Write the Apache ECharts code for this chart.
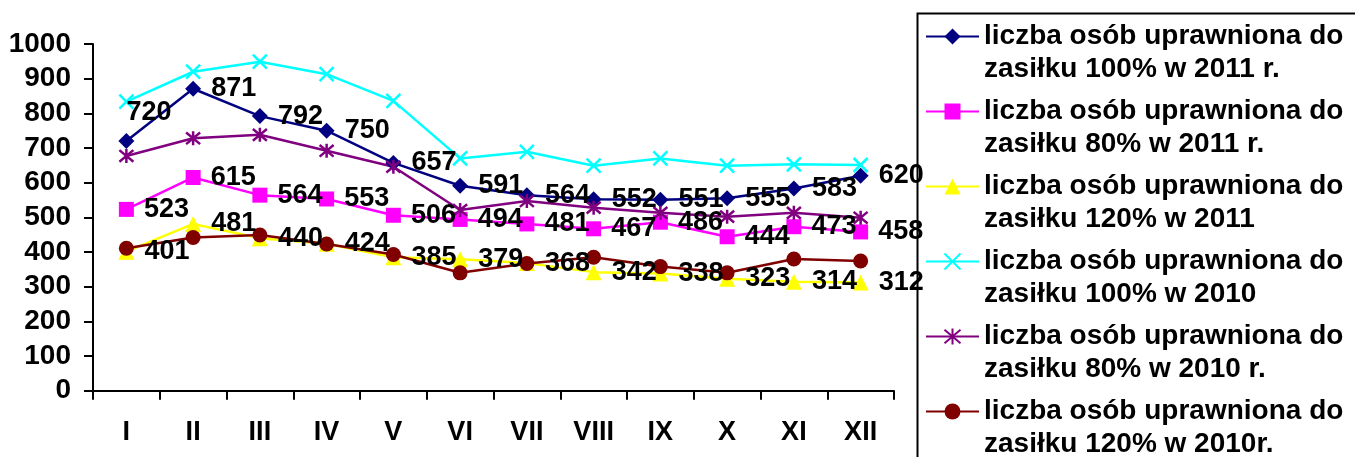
<!DOCTYPE html>
<html>
<head>
<meta charset="utf-8">
<script src="https://cdn.jsdelivr.net/npm/echarts@6/dist/echarts.min.js"></script>
<style>
html,body{margin:0;padding:0;background:#fff;}
#c{width:1355px;height:457px;}
</style>
</head>
<body>
<div id="c"></div>
<script>
var categories = ['I','II','III','IV','V','VI','VII','VIII','IX','X','XI','XII'];
var yTicks = [0,100,200,300,400,500,600,700,800,900,1000];
var names = [
  'liczba osób uprawniona do\nzasiłku 100% w 2011 r.',
  'liczba osób uprawniona do\nzasiłku 80% w 2011 r.',
  'liczba osób uprawniona do\nzasiłku 120% w 2011',
  'liczba osób uprawniona do\nzasiłku 100% w 2010',
  'liczba osób uprawniona do\nzasiłku 80% w 2010 r.',
  'liczba osób uprawniona do\nzasiłku 120% w 2010r.'
];
var v100_2011 = [720,871,792,750,657,591,564,552,551,555,583,620];
var v80_2011  = [523,615,564,553,506,494,481,467,486,444,473,458];
var v120_2011 = [401,481,440,424,385,379,368,342,338,323,314,312];
var v100_2010 = [834,920,949,913,836,670,689,649,670,649,653,651];
var v80_2010  = [677,728,738,692,646,521,547,528,513,502,513,499];
var v120_2010 = [411,442,449,423,393,340,367,385,358,340,380,374];

var FONT = 'Liberation Sans, Arial, sans-serif';
var labelStyle = {show:true, position:'right', distance:10, color:'#000', fontSize:27, fontWeight:'bold', fontFamily:FONT};

function mk(name, data, color, symbol, size, showLabel, extra){
  var s = {
    name: name, type:'line', data: data, symbol: symbol, symbolSize: size,
    lineStyle:{color:color, width:2.5},
    itemStyle:{color:color, borderColor:color, borderWidth:0},
    label: showLabel ? labelStyle : {show:false},
    emphasis:{disabled:true},
    animation:false
  };
  if (extra) extra(s);
  return s;
}

var blueData = v100_2011.map(function(v,i){
  if (i===0) return {value:v, label:{offset:[-18,-29]}};
  return v;
});

var xPath = 'path://M0,0L10,10M10,0L0,10';
var starPath = 'path://M0,0L10,10M10,0L0,10M5,-1L5,11';
function strokeOnly(s){ s.itemStyle.borderWidth=2.5; s.itemStyle.color='rgba(0,0,0,0)'; }

var series = [
  mk(names[0], blueData, '#000080', 'diamond', 16, true),
  mk(names[1], v80_2011, '#FF00FF', 'rect', 15, true),
  mk(names[2], v120_2011, '#FFFF00', 'triangle', 16, true),
  mk(names[3], v100_2010, '#00FFFF', xPath, 14, false, strokeOnly),
  mk(names[4], v80_2010, '#800080', starPath, 14, false, strokeOnly),
  mk(names[5], v120_2010, '#800000', 'circle', 15, false)
];

var chart = echarts.init(document.getElementById('c'), null, {renderer:'canvas'});
chart.setOption({
  animation:false,
  backgroundColor:'#fff',
  grid:{left:93, right:461, top:44, bottom:66.3, containLabel:false},
  xAxis:{
    type:'category', data:categories, boundaryGap:true,
    axisLine:{lineStyle:{color:'#000', width:2}},
    axisTick:{show:true, length:9, inside:false, lineStyle:{color:'#000', width:2}},
    axisLabel:{color:'#000', fontSize:27, fontWeight:'bold', fontFamily:FONT, margin:28},
    splitLine:{show:false}
  },
  yAxis:{
    type:'value', min:yTicks[0], max:yTicks[yTicks.length-1], interval:100,
    axisLine:{show:true, lineStyle:{color:'#000', width:2}},
    axisTick:{show:true, length:9, lineStyle:{color:'#000', width:2}},
    axisLabel:{color:'#000', fontSize:28, fontWeight:'bold', fontFamily:FONT, margin:22,
      formatter:function(v){ return String(v); }},
    splitLine:{show:false}
  },
  legend:{
    orient:'vertical', left:925, top:-13, padding:0, width:430, height:700,
    itemWidth:53, itemHeight:20, itemGap:-24,
    selectedMode:false,
    formatter:function(n){ return '\n' + n; },
    textStyle:{color:'#000', fontSize:28, fontWeight:'bold', fontFamily:FONT, lineHeight:33},
    data:names
  },
  graphic:[{
    type:'rect', left:915, top:11, shape:{x:0,y:0,width:600,height:600},
    style:{fill:'none', stroke:'#000', lineWidth:2}, silent:true, z:-1
  }],
  series: series
});
</script>
</body>
</html>
